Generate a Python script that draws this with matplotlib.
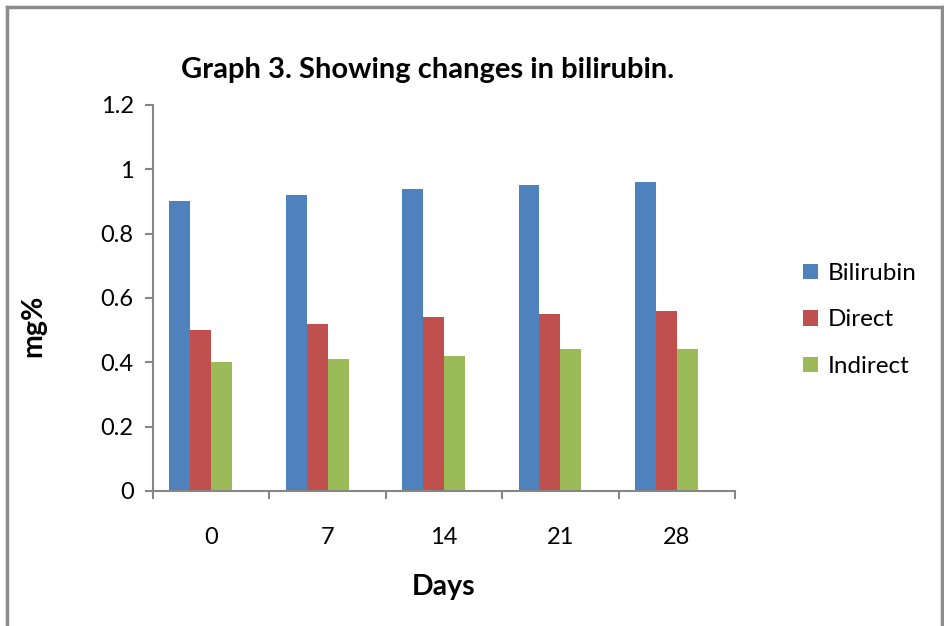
import numpy as np
import matplotlib
matplotlib.use("Agg")
import matplotlib.pyplot as plt

plt.rcParams['font.family'] = ['Lato', 'DejaVu Sans']

# Data
days = ['0', '7', '14', '21', '28']
bilirubin = [0.90, 0.92, 0.94, 0.95, 0.96]
direct = [0.50, 0.52, 0.54, 0.55, 0.56]
indirect = [0.40, 0.41, 0.42, 0.44, 0.44]

series = [('Bilirubin', bilirubin, '#4F81BD'),
          ('Direct', direct, '#C0504D'),
          ('Indirect', indirect, '#9BBB59')]

fig = plt.figure(figsize=(9.44, 6.26), dpi=100)
ax = fig.add_axes([0.1621, 0.2157, 0.6165, 0.6166])

x = np.arange(len(days))
width = 0.18
shift = -0.09  # clusters sit a little left of the category centre
for i, (name, vals, color) in enumerate(series):
    ax.bar(x + shift + (i - 1) * width, vals, width, color=color, label=name)

axis_grey = '#868686'
ax.set_xlim(-0.5, len(days) - 0.5)
ax.set_ylim(0, 1.2)
ax.set_yticks(np.arange(0, 1.21, 0.2))
ax.set_yticklabels(['0', '0.2', '0.4', '0.6', '0.8', '1', '1.2'])
ax.set_xticks(x)
ax.set_xticklabels(days)
ax.set_xticks(np.arange(-0.5, len(days), 1), minor=True)
ax.tick_params(axis='x', which='major', length=0, pad=26, labelsize=17)
ax.tick_params(axis='x', which='minor', length=6, color=axis_grey, width=1.5)
ax.tick_params(axis='y', length=6, color=axis_grey, width=1.5, labelsize=17, pad=8)

for side in ['top', 'right']:
    ax.spines[side].set_visible(False)
for side in ['left', 'bottom']:
    ax.spines[side].set_color(axis_grey)
    ax.spines[side].set_linewidth(1.5)

fig.text(0.453, 0.888, 'Graph 3. Showing changes in bilirubin.',
         ha='center', va='center', fontsize=21, fontweight='bold')
fig.text(0.035, 0.48, 'mg%', rotation=90, ha='center', va='center',
         fontsize=20.5, fontweight='bold')
fig.text(0.470, 0.062, 'Days', ha='center', va='center',
         fontsize=20.5, fontweight='bold')

ax.legend(loc='center left', bbox_to_anchor=(0.851, 0.489),
          bbox_transform=fig.transFigure, frameon=False, fontsize=17.5,
          handlelength=0.6, handleheight=0.6, handletextpad=0.4,
          labelspacing=1.05, borderpad=0, borderaxespad=0)

# grey frame around the picture (no bottom edge in the reference)
frame_grey = '#8C8C8C'
fig.add_artist(plt.Line2D([0.0075, 0.0075], [0, 0.989], color=frame_grey, lw=2.5,
                          transform=fig.transFigure))
fig.add_artist(plt.Line2D([0.0075, 0.9975], [0.989, 0.989], color=frame_grey, lw=2.5,
                          transform=fig.transFigure))
fig.add_artist(plt.Line2D([0.9975, 0.9975], [0, 0.989], color=frame_grey, lw=2.5,
                          transform=fig.transFigure))

fig.savefig('out.png', dpi=100)
